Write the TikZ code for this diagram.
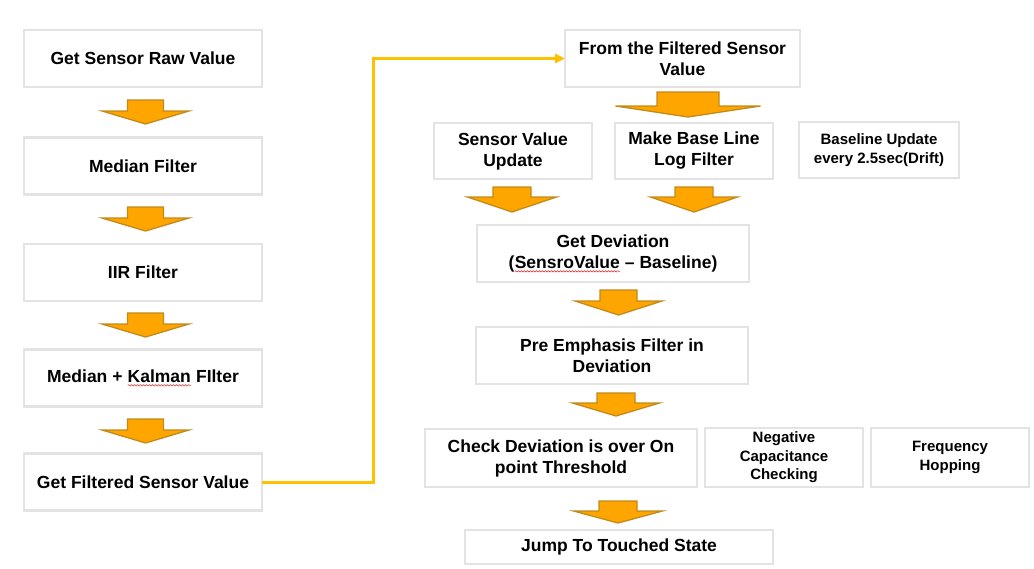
\documentclass[tikz,border=0pt]{standalone}
\usepackage{fontspec}
\setmainfont{Liberation Sans}
\usetikzlibrary{arrows.meta,decorations.pathmorphing}
\definecolor{boxgray}{HTML}{E3E3E3}
\definecolor{arrfill}{HTML}{FFA500}
\definecolor{arrdraw}{HTML}{C38A1A}
\definecolor{yel}{HTML}{FFC000}
\definecolor{spellred}{HTML}{E03030}
\newcommand\spell[1]{\tikz[baseline=(w.base),x=1pt,y=1pt]{%
  \node[inner sep=0pt,outer sep=0pt,draw=none,fill=none,minimum width=0pt,minimum height=0pt] (w) {#1};
  \draw[spellred,line width=0.6pt,decorate,decoration={snake,amplitude=0.7pt,segment length=3pt}]
    ([yshift=-3pt]w.base west) -- ([yshift=-3pt]w.base east);}}
% cx, top, headtop, tip, shaft half, head half
\newcommand\downarr[6]{%
  \draw[blockarr] (#1-#5,#2) -- (#1+#5,#2) -- (#1+#5,#3) -- (#1+#6,#3) -- (#1,#4)
    -- (#1-#6,#3) -- (#1-#5,#3) -- cycle;}
\begin{document}
\begin{tikzpicture}[x=1pt,y=-1pt,
  font=\bfseries\fontsize{17.5}{21}\selectfont,
  box/.style={draw=boxgray, line width=2.5pt, fill=white, align=center,
    inner sep=0pt, outer sep=0pt},
  smalltext/.style={font=\bfseries\fontsize{15}{18.5}\selectfont},
  blockarr/.style={fill=arrfill, draw=arrdraw, line width=1.3pt, line join=miter},
  link/.style={draw=yel, line width=3pt, -{Triangle[length=10pt,width=9pt]}}]
\useasboundingbox (0,0) rectangle (1034,568);
\fill[white] (0,0) rectangle (1034,568);

% left column
\node[box, minimum width=238pt, minimum height=57pt] (b1) at (143,58.5) {Get Sensor Raw Value};
\node[box, minimum width=238pt, minimum height=57pt] (b2) at (143,166) {Median Filter};
\node[box, minimum width=238pt, minimum height=57pt] (b3) at (143,272.5) {IIR Filter};
\node[box, minimum width=238pt, minimum height=57pt] (b4) at (143,378) {Median + \spell{Kalman} FIlter};
\node[box, minimum width=238pt, minimum height=57pt] (b5) at (143,482) {Get Filtered Sensor Value};

\downarr{145.5}{100}{111}{124}{18}{43.5}
\downarr{145.5}{207}{218}{231}{18}{43.5}
\downarr{145.5}{313}{324}{337}{18}{43.5}
\downarr{145.5}{419}{430}{443}{18}{43.5}

% right column
\node[box, minimum width=235pt, minimum height=57pt] (r1) at (682.5,58.5) {From the Filtered Sensor\\Value};
\downarr{688}{92}{106}{117}{31}{72.5}
\node[box, minimum width=158pt, minimum height=56pt] (r2) at (513,151) {Sensor Value\\Update};
\node[box, minimum width=158pt, minimum height=56pt] (r3) at (694,151) {Make Base Line\\Log Filter};
\node[box, smalltext, minimum width=160pt, minimum height=56pt] (r4) at (879,150) {Baseline Update\\every 2.5sec(Drift)};
\downarr{512}{187}{197}{212}{19}{44.5}
\downarr{694}{187}{197}{212}{19}{43.5}
\node[box, minimum width=272pt, minimum height=57pt] (r5) at (613,253.5) {Get Deviation\\(\spell{SensroValue} – Baseline)};
\downarr{618.5}{290}{301}{315}{18.5}{43.5}
\node[box, minimum width=272pt, minimum height=57pt] (r6) at (612,355.5) {Pre Emphasis Filter in\\Deviation};
\downarr{616}{393}{403}{416}{19}{43.5}
\node[box, minimum width=272pt, minimum height=58pt] (r7) at (561,458) {Check Deviation is over On\\point Threshold};
\node[box, smalltext, minimum width=158pt, minimum height=59pt] (r8) at (784,457.5) {Negative\\Capacitance\\Checking};
\node[box, smalltext, minimum width=158pt, minimum height=59pt] (r9) at (950,457.5) {Frequency\\Hopping};
\downarr{618}{501}{511}{523}{19}{44.5}
\node[box, minimum width=308pt, minimum height=34pt] (r10) at (619,547) {Jump To Touched State};

% connector
\draw[link] (b5.east) -- ++(111,0) |- (r1.west);
\end{tikzpicture}
\end{document}
